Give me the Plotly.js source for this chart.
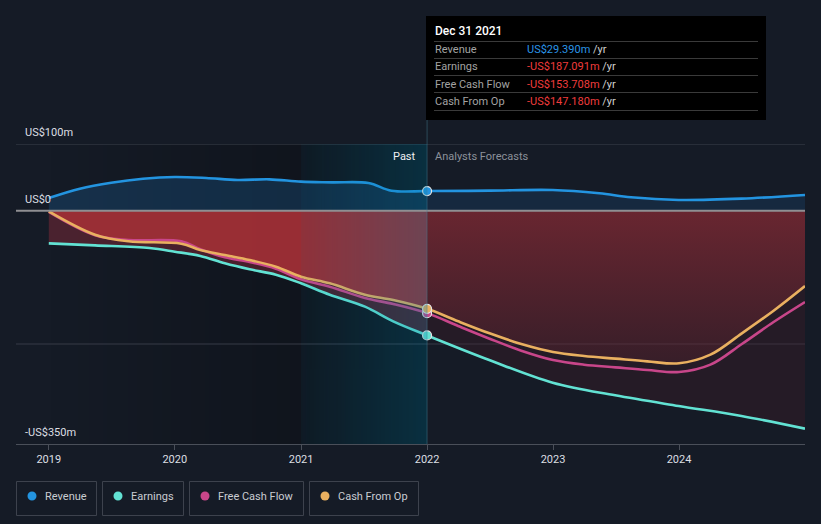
<!DOCTYPE html>
<html>
<head>
<meta charset="utf-8">
<script src="https://cdn.plot.ly/plotly-3.0.1.min.js"></script>
<style>
html,body{margin:0;padding:0;background:#151b26;}
#chart{width:821px;height:524px;}
</style>
</head>
<body>
<div id="chart"></div>
<script>
// ---------- DATA ----------
const revPastX = ['2019-01-01','2019-04-01','2019-07-01','2019-10-01','2020-01-01','2020-04-01','2020-07-01','2020-10-01','2021-01-01','2021-04-01','2021-07-15','2021-09-20','2022-01-01'];
const revPastY = [19,33,42,48,50.5,49,46,47,43.5,42.5,41.5,30,29.39];
const revFcX = ['2022-01-01','2022-07-01','2022-12-31','2023-05-15','2023-08-15','2023-12-31','2024-06-30','2024-12-31'];
const revFcY = [29.39,30,31,26,20,16,18,23.5];

const earnPastX = ['2019-01-01','2019-05-15','2019-10-20','2020-01-01','2020-03-15','2020-05-25','2020-08-05','2020-10-20','2021-01-01','2021-03-25','2021-07-05','2021-09-25','2022-01-01'];
const earnPastY = [-49,-52,-56,-61.5,-68,-79,-88,-96,-109,-126,-144,-166,-187.091];
const earnFcX = ['2022-01-01','2022-06-30','2022-12-31','2023-06-30','2023-12-31','2024-06-30','2024-12-31'];
const earnFcY = [-187.091,-224,-258,-277,-293,-308,-327];

const cashPastX = ['2019-01-01','2019-05-15','2019-08-20','2020-01-20','2020-03-15','2020-05-25','2020-08-05','2020-10-20','2021-01-01','2021-03-25','2021-07-05','2021-09-25','2022-01-01'];
const cfoPastY = [-1,-36,-46,-49.5,-59,-66.5,-74,-84,-99,-109,-126,-134,-147.18];
const fcfPastY = [-2,-37,-44,-46,-58,-70,-77,-87,-103,-114,-131,-140,-153.708];
const cashFcX = ['2022-01-01','2022-04-01','2022-07-01','2022-10-01','2023-01-01','2023-04-01','2023-07-01','2023-10-01','2024-01-01','2024-04-01','2024-07-01','2024-10-01','2024-12-31'];
const cfoFcY = [-147.18,-166,-184,-200,-212,-218,-222,-226,-229,-216,-184,-150,-113];
const fcfFcY = [-153.708,-173,-192,-210,-224,-231,-235,-239,-242,-231,-200,-167,-137];

const yearTicks = ['2019-01-01','2020-01-01','2021-01-01','2022-01-01','2023-01-01','2024-01-01'];
const yearLabels = ['2019','2020','2021','2022','2023','2024'];
const yLabelVals = [100, 0, -350];
const yLabelText = ['US$100m','US$0','-US$350m'];
const legendNames = ['Revenue','Earnings','Free Cash Flow','Cash From Op'];
const tipDate = 'Dec 31 2021';
const tipLabels = ['Revenue','Earnings','Free Cash Flow','Cash From Op'];
const tipValues = ['US$29.390m','-US$187.091m','-US$153.708m','-US$147.180m'];

// ---------- STYLE ----------
const C = {rev:'#2394e0', earn:'#62e2d3', fcf:'#c8468a', cfo:'#e9b060'};
const FONT = 'Roboto, "Open Sans", sans-serif';
const PL=16, PR=805, PT=144, PB=444;
const X = px => (px-PL)/(PR-PL);
const Y = py => (PB-py)/(PB-PT);

function gradImg(stops){
  const c=document.createElement('canvas'); c.width=256; c.height=2;
  const ctx=c.getContext('2d');
  const g=ctx.createLinearGradient(0,0,256,0);
  stops.forEach(s=>g.addColorStop(s[0],s[1]));
  ctx.fillStyle=g; ctx.fillRect(0,0,256,2);
  return c.toDataURL();
}
const ms = (a,b)=> new Date(b).getTime()-new Date(a).getTime();

const join = (a,b)=>a.concat(b.slice(1));
const sp = 1;

function fillTrace(x,y,opts){
  return Object.assign({x:x,y:y,type:'scatter',mode:'lines',fill:'tozeroy',
    line:{width:0,shape:'spline',smoothing:sp},hoverinfo:'skip',showlegend:false},opts);
}
function lineTrace(x,y,color){
  return {x:x,y:y,type:'scatter',mode:'lines',line:{color:color,width:2.6,shape:'spline',smoothing:sp},hoverinfo:'skip',showlegend:false};
}
function dotTrace(x,y,color){
  return {x:[x[x.length-1]],y:[y[y.length-1]],type:'scatter',mode:'markers',
    marker:{size:9,color:color,line:{color:'#e6e6e6',width:1.2}},hoverinfo:'skip',showlegend:false};
}

const traces = [
  fillTrace(revPastX,revPastY,{fillcolor:'rgba(33,150,243,0.18)'}),
  fillTrace(revFcX,revFcY,{fillcolor:'rgba(33,150,243,0.12)'}),
  fillTrace(earnPastX,earnPastY,{fillcolor:'rgba(140,45,60,0.45)'}),
  fillTrace(cashPastX,cfoPastY,{fillcolor:'rgba(175,50,55,0.78)'}),
  fillTrace(earnFcX,earnFcY,{fillcolor:'rgba(80,30,40,0.28)'}),
  fillTrace(cashFcX,cfoFcY,{fillgradient:{type:'vertical',start:-260,stop:0,
     colorscale:[[0,'rgba(150,45,55,0.10)'],[1,'rgba(150,45,55,0.60)']]}}),
  lineTrace(join(revPastX,revFcX),join(revPastY,revFcY),C.rev),
  lineTrace(join(earnPastX,earnFcX),join(earnPastY,earnFcY),C.earn),
  lineTrace(join(cashPastX,cashFcX),join(fcfPastY,fcfFcY),C.fcf),
  lineTrace(join(cashPastX,cashFcX),join(cfoPastY,cfoFcY),C.cfo),
  dotTrace(revPastX,revPastY,C.rev),
  dotTrace(earnPastX,earnPastY,C.earn),
  dotTrace(cashPastX,fcfPastY,C.fcf),
  dotTrace(cashPastX,cfoPastY,C.cfo)
];

const shapes = [];
const annotations = [];

// gridlines
[100,-200].forEach(v=>shapes.push({type:'line',xref:'paper',x0:0,x1:1,yref:'y',y0:v,y1:v,
  line:{color: v===100?'#3d424c':'#363b46',width:1},layer:'below'}));
// zero line
shapes.push({type:'line',xref:'paper',x0:0,x1:1,yref:'y',y0:0,y1:0,line:{color:'#8f8f92',width:2},layer:'above'});
// tooltip guide line
shapes.push({type:'line',xref:'x',x0:'2022-01-01',x1:'2022-01-01',yref:'paper',y0:0,y1:Y(120),
  line:{color:'rgba(70,130,150,0.45)',width:1},layer:'above'});

// y labels
yLabelVals.forEach((v,i)=>annotations.push({xref:'paper',x:X(23),xanchor:'left',yref:'y',y:v,yanchor:'bottom',yshift:3,
  text:yLabelText[i],showarrow:false,font:{family:FONT,size:11,color:'#dcdfe3'}}));

// Past / forecast labels
annotations.push({xref:'x',x:'2022-01-01',xanchor:'right',xshift:-9,yref:'paper',y:Y(156),yanchor:'middle',
  text:'Past',showarrow:false,font:{family:FONT,size:11,color:'#eef0f2'}});
annotations.push({xref:'x',x:'2022-01-01',xanchor:'left',xshift:6,yref:'paper',y:Y(156),yanchor:'middle',
  text:'Analysts Forecasts',showarrow:false,font:{family:FONT,size:11,color:'#8c919a'}});

// tooltip
shapes.push({type:'rect',xref:'paper',yref:'paper',x0:X(426),x1:X(766),y0:Y(120),y1:Y(16),
  fillcolor:'#000000',line:{width:0},layer:'above'});
[41.5,58.5,75.5,92.5,110.5].forEach(py=>shapes.push({type:'line',xref:'paper',yref:'paper',
  x0:X(434),x1:X(758),y0:Y(py),y1:Y(py),line:{color:'#3a3a3a',width:1},layer:'above'}));
annotations.push({xref:'paper',yref:'paper',x:X(433),xanchor:'left',y:Y(31),yanchor:'middle',
  text:tipDate,showarrow:false,font:{family:FONT,size:12,color:'#ffffff',weight:500}});
const rowY=[49.5,66.5,84,101];
const valColors=['#2a95e8','#f03c3c','#f03c3c','#f03c3c'];
tipLabels.forEach((t,i)=>{
  annotations.push({xref:'paper',yref:'paper',x:X(433),xanchor:'left',y:Y(rowY[i]),yanchor:'middle',
    text:t,showarrow:false,font:{family:FONT,size:11,color:'#a3a3a3'}});
  annotations.push({xref:'paper',yref:'paper',x:X(525),xanchor:'left',y:Y(rowY[i]),yanchor:'middle',
    text:'<span style="color:'+valColors[i]+'">'+tipValues[i]+'</span> /yr',showarrow:false,
    font:{family:FONT,size:11,color:'#d0d0d0'}});
});

// legend
const lgBox=[[16,97],[102,184],[189,304],[309,419]];
const lgCol=[C.rev,C.earn,C.fcf,C.cfo];
legendNames.forEach((n,i)=>{
  const [a,b]=lgBox[i];
  shapes.push({type:'rect',xref:'paper',yref:'paper',x0:X(a+0.5),x1:X(b-0.5),y0:Y(515.5),y1:Y(481.5),
    line:{color:'#3d424d',width:1},fillcolor:'rgba(0,0,0,0)',layer:'above'});
  shapes.push({type:'circle',xref:'paper',yref:'paper',x0:X(a+11.5),x1:X(a+20.5),y0:Y(500.5),y1:Y(491.5),
    line:{width:0},fillcolor:lgCol[i],layer:'above'});
  annotations.push({xref:'paper',yref:'paper',x:X(a+27),xanchor:'left',y:Y(496),yanchor:'middle',
    text:n,showarrow:false,font:{family:FONT,size:11,color:'#c9ccd2'}});
});

const images = [
  {source:gradImg([[0,'rgba(0,0,0,0)'],[1,'rgba(0,0,0,0.35)']]),xref:'x',yref:'paper',
   x:'2019-01-01',y:1,sizex:ms('2019-01-01','2022-01-01'),sizey:1,xanchor:'left',yanchor:'top',
   sizing:'stretch',layer:'below'},
  {source:gradImg([[0,'rgba(0,129,169,0.06)'],[1,'rgba(0,129,169,0.28)']]),xref:'x',yref:'paper',
   x:'2021-01-01',y:1,sizex:ms('2021-01-01','2022-01-01'),sizey:1,xanchor:'left',yanchor:'top',
   sizing:'stretch',layer:'above'}
];

const layout = {
  width:821,height:524,
  margin:{l:PL,r:821-PR,t:PT,b:524-PB,pad:0},
  paper_bgcolor:'#151b26',plot_bgcolor:'rgba(0,0,0,0)',
  showlegend:false,hovermode:false,
  font:{family:FONT,color:'#dcdfe3'},
  xaxis:{type:'date',range:['2018-09-28','2024-12-31'],tickmode:'array',tickvals:yearTicks,ticktext:yearLabels,
    showgrid:false,zeroline:false,showline:true,linecolor:'#4a4f59',linewidth:1,
    ticks:'outside',ticklen:5,tickcolor:'#4a4f59',tickfont:{family:FONT,size:11,color:'#dcdfe3'},fixedrange:true},
  yaxis:{range:[-350,100],showgrid:false,zeroline:false,showticklabels:false,ticks:'',fixedrange:true},
  shapes:shapes,annotations:annotations,images:images
};

Plotly.newPlot('chart',traces,layout,{displayModeBar:false,staticPlot:true});
</script>
</body>
</html>
